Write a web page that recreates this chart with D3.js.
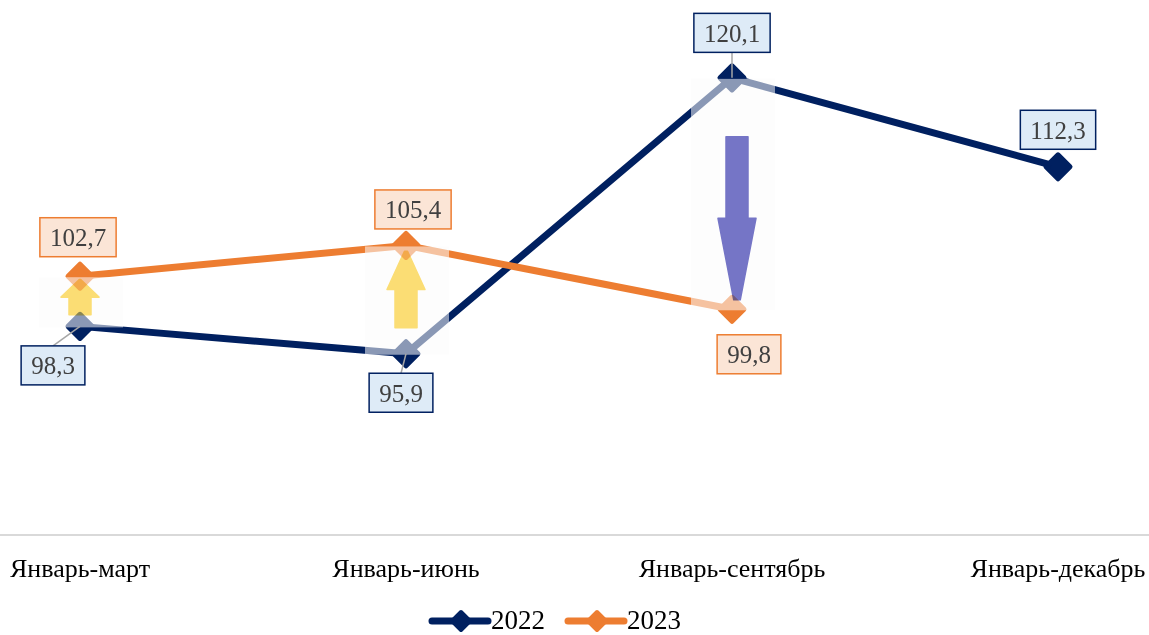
<!DOCTYPE html>
<html>
<head>
<meta charset="utf-8">
<script src="https://cdn.jsdelivr.net/npm/d3@7"></script>
<style>
    body { margin: 0; background: #fff; }
    svg { display: block; font-family: "Liberation Serif", "Times New Roman", serif; }
</style>
</head>
<body>
<svg id="chart"></svg>
<script>
const categories = ["Январь-март", "Январь-июнь", "Январь-сентябрь", "Январь-декабрь"];
const values2022 = [98.3, 95.9, 120.1, 112.3];
const values2023 = [102.7, 105.4, 99.8];
const seriesNames = ["2022", "2023"];

const width = 1149, height = 635;
const colors = {"2022": "#002060", "2023": "#ED7D31"};
const boxFill = {"2022": "#DEEBF7", "2023": "#FBE5D6"};

// label offsets from the marker (px) and whether a leader line is drawn
const labelLayout = {
    "2022": [[-27, 39, true], [-5, 39, true], [0, -45, true], [0, -37, false]],
    "2023": [[-2, -39, false], [7, -36, false], [17, 45, false]]
};

const svg = d3.select("#chart")
    .attr("width", width)
    .attr("height", height);

const x = d3.scalePoint().domain(categories).range([80, 1058]);
const y = d3.scaleLinear().domain([80, 125]).range([535, 22]);
const fmt = d3.formatLocale({decimal: ",", thousands: " ", grouping: [3], currency: ["", ""]}).format(".1f");

// axis line
svg.append("line")
    .attr("x1", 0).attr("x2", width)
    .attr("y1", y(80)).attr("y2", y(80))
    .attr("stroke", "#D9D9D9")
    .attr("stroke-width", 2);

svg.append("g")
    .selectAll("text")
    .data(categories)
    .enter().append("text")
    .attr("x", d => x(d))
    .attr("y", 577)
    .attr("text-anchor", "middle")
    .attr("font-size", 26)
    .attr("fill", "#000")
    .text(d => d);

const series = [
    {name: "2022", values: values2022},
    {name: "2023", values: values2023}
];

const line = d3.line()
    .x((d, i) => x(categories[i]))
    .y(d => y(d));

const diamond = (cx, cy, r) => `M${cx},${cy - r}L${cx + r},${cy}L${cx},${cy + r}L${cx - r},${cy}Z`;

series.forEach(s => {
    svg.append("path")
        .datum(s.values)
        .attr("d", line)
        .attr("fill", "none")
        .attr("stroke", colors[s.name])
        .attr("stroke-width", 7)
        .attr("stroke-linejoin", "round");

    svg.append("g")
        .selectAll("path")
        .data(s.values)
        .enter().append("path")
        .attr("d", (d, i) => diamond(x(categories[i]), y(d), 12))
        .attr("fill", colors[s.name])
        .attr("stroke", colors[s.name])
        .attr("stroke-width", 5)
        .attr("stroke-linejoin", "round");
});

// change arrows between the two years
const arrowColors = {up: "#FDDF75", down: "#7676C8"};
values2023.forEach((v23, i) => {
    const v22 = values2022[i];
    const cx = x(categories[i]);
    const yTop = Math.min(y(v22), y(v23)) + 1;
    const yBot = Math.max(y(v22), y(v23)) + 1;
    const h = yBot - yTop;
    const up = v23 > v22;

    svg.append("rect")
        .attr("x", cx - 41).attr("y", yTop)
        .attr("width", 84).attr("height", h)
        .attr("fill", "#fbfbfb")
        .attr("opacity", 0.55);

    const tipPad = 0.045 * h, tailPad = 0.25 * h;
    const tip = up ? yTop + tipPad : yBot - tipPad;
    const tail = up ? yBot - tailPad : yTop + tailPad;
    const len = Math.abs(tail - tip);
    const headLen = len * 0.5;
    const dir = up ? 1 : -1;
    const base = tip + dir * headLen;
    const ax = cx + (up ? 0 : 5);
    const sw = 11, hw = 19, tw = headLen * 0.04;
    const pts = [
        [ax - tw, tip], [ax + tw, tip],
        [ax + hw, base], [ax + sw, base],
        [ax + sw, tail], [ax - sw, tail],
        [ax - sw, base], [ax - hw, base], [ax - tw, tip]
    ];
    svg.append("path")
        .attr("d", d3.line()(pts) + "Z")
        .attr("fill", up ? arrowColors.up : arrowColors.down)
        .attr("stroke", up ? arrowColors.up : arrowColors.down)
        .attr("stroke-width", 1.5)
        .attr("stroke-linejoin", "round")
        .style("mix-blend-mode", "multiply");
});

// data labels
series.forEach(s => {
    s.values.forEach((v, i) => {
        const mx = x(categories[i]), my = y(v);
        const [dx, dy, leader] = labelLayout[s.name][i];
        const cx = mx + dx, cy = my + dy;
        const g = svg.append("g");
        const t = g.append("text")
            .attr("x", cx).attr("y", cy + 9)
            .attr("text-anchor", "middle")
            .attr("font-size", 25)
            .attr("fill", "#404040")
            .text(fmt(v));
        const bw = t.node().getComputedTextLength() + 20, bh = 39;
        const bx0 = cx - bw / 2, by0 = cy - bh / 2;
        if (leader) {
            g.insert("line", "text")
                .attr("x1", cx).attr("y1", dy > 0 ? by0 : by0 + bh)
                .attr("x2", mx).attr("y2", my)
                .attr("stroke", "#A6A6A6")
                .attr("stroke-width", 1.5);
        }
        g.insert("rect", "text")
            .attr("x", bx0).attr("y", by0)
            .attr("width", bw).attr("height", bh)
            .attr("fill", boxFill[s.name])
            .attr("stroke", colors[s.name])
            .attr("stroke-width", 1.5);
    });
});

// legend
const legendX = [432, 568];
seriesNames.forEach((name, i) => {
    const lx = legendX[i], ly = 621;
    svg.append("line")
        .attr("x1", lx).attr("x2", lx + 56)
        .attr("y1", ly).attr("y2", ly)
        .attr("stroke", colors[name])
        .attr("stroke-width", 7)
        .attr("stroke-linecap", "round");
    svg.append("path")
        .attr("d", diamond(lx + 29, ly, 9))
        .attr("fill", colors[name])
        .attr("stroke", colors[name])
        .attr("stroke-width", 4)
        .attr("stroke-linejoin", "round");
    svg.append("text")
        .attr("x", lx + 59).attr("y", ly + 8)
        .attr("font-size", 27)
        .attr("fill", "#000")
        .text(name);
});
</script>
</body>
</html>
